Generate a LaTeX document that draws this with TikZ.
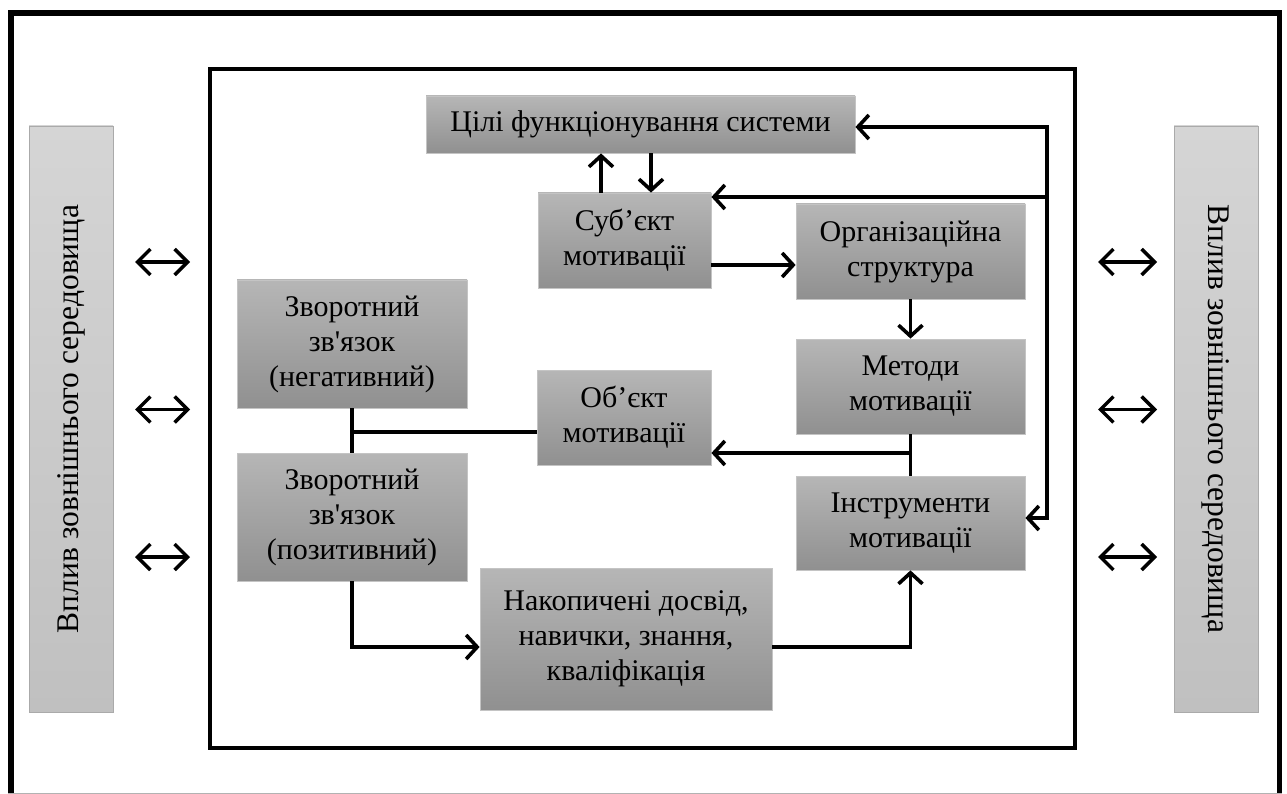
\documentclass[tikz,border=0pt]{standalone}
\usepackage{fontspec}
\setmainfont{Liberation Serif}[Ligatures=TeXOff]
\usetikzlibrary{arrows.meta}

\definecolor{boxtop}{HTML}{B6B6B6}
\definecolor{boxbot}{HTML}{909090}
\definecolor{boxrim}{HTML}{C4C4C4}
\definecolor{envtop}{HTML}{D5D5D5}
\definecolor{envbot}{HTML}{C0C0C0}
\definecolor{envrim}{HTML}{AAAAAA}

\tikzset{
  block/.style={draw=boxrim, line width=0.8pt, top color=boxtop, bottom color=boxbot,
    align=center, inner sep=0pt, font=\fontsize{30}{35}\selectfont},
  envbox/.style={draw=envrim, line width=0.8pt, top color=envtop, bottom color=envbot,
    inner sep=0pt},
  link/.style={line width=3.6pt, line cap=butt, line join=miter},
  arrowlink/.style={link, -{Straight Barb[length=11pt,width=24pt]}},
  twoway/.style={link, {Straight Barb[length=11pt,width=24pt]}-{Straight Barb[length=11pt,width=24pt]}},
  exchange/.style={line width=3.4pt, {Straight Barb[length=13pt,width=26pt]}-{Straight Barb[length=13pt,width=26pt]}},
}

\begin{document}
\begin{tikzpicture}[x=1pt,y=-1pt]
\useasboundingbox (0,0) rectangle (1287,794);

% outer frame
\draw[line width=5.5pt] (11,794) -- (11,13) -- (1279.5,13) -- (1279.5,794);
\draw[gray!60, line width=1pt] (8,793.3) -- (1282,793.3);

% inner frame
\draw[line width=4pt] (209.5,68.7) rectangle (1075,748);

% environment bars
\node[envbox, minimum width=84, minimum height=586] (envL) at (71,419) {};
\node[rotate=90, font=\fontsize{31.5}{35}\selectfont] (envLtext) at (envL.center) {Вплив зовнішнього середовища};
\node[envbox, minimum width=84, minimum height=586] (envR) at (1216,419) {};
\node[rotate=-90, font=\fontsize{31.5}{35}\selectfont] (envRtext) at (envR.center) {Вплив зовнішнього середовища};

% blocks
\node[block, minimum width=429, minimum height=57] (goals) at (640.5,124.5) {Цілі функціонування системи};
\node[block, minimum width=173, minimum height=95] (subj) at (624.5,240.5) {Суб’єкт\\мотивації};
\node[block, minimum width=229, minimum height=95] (org) at (910.5,251.5) {Організаційна\\структура};
\node[block, minimum width=229, minimum height=95] (meth) at (910.5,386.5) {Методи\\мотивації};
\node[block, minimum width=229, minimum height=94] (instr) at (910.5,523) {Інструменти\\мотивації};
\node[block, minimum width=174, minimum height=95] (obj) at (624,417.5) {Об’єкт\\мотивації};
\node[block, minimum width=230, minimum height=128] (neg) at (352,344) {Зворотний\\зв'язок\\(негативний)};
\node[block, minimum width=230, minimum height=128] (pos) at (352,517) {Зворотний\\зв'язок\\(позитивний)};
\node[block, minimum width=292, minimum height=142] (acc) at (626,639) {Накопичені досвід,\\навички, знання,\\кваліфікація};

% junction points
\coordinate (jtop) at (1047,127);
\coordinate (jmid) at (1047,197);
\coordinate (jbot) at (1047,518);
\coordinate (upx) at (601,0);
\coordinate (downx) at (651,0);
\coordinate (sorow) at (0,265);
\coordinate (mbr) at (0,453);
\coordinate (nbr) at (0,432);
\coordinate (lowrow) at (0,647);

% feedback bus on the right
\draw[twoway] (goals.east |- jtop) -- (jtop) -- (jbot) -- (instr.east |- jbot);
\draw[arrowlink] (jmid) -- (subj.east |- jmid);

% goals <-> subject
\draw[arrowlink] (subj.north -| upx) -- (goals.south -| upx);
\draw[arrowlink] (goals.south -| downx) -- (subj.north -| downx);

% main chain
\draw[arrowlink] (subj.east |- sorow) -- (org.west |- sorow);
\draw[arrowlink] (org.south) -- (meth.north);
\draw[link] (meth.south) -- (instr.north);
\draw[arrowlink] (meth.south |- mbr) -- (obj.east |- mbr);

% feedback blocks
\draw[link] (neg.south) -- (pos.north);
\draw[link] (neg.south |- nbr) -- (obj.west |- nbr);
\draw[arrowlink] (pos.south) -- (pos.south |- lowrow) -- (acc.west |- lowrow);
\draw[arrowlink] (acc.east |- lowrow) -- (instr.south |- lowrow) -- (instr.south);

% exchange with the environment
\foreach \yy [count=\i] in {262,409.5,557} {
  \coordinate (la\i) at (135,\yy);
  \coordinate (lb\i) at (190,\yy);
  \coordinate (ra\i) at (1098,\yy);
  \coordinate (rb\i) at (1157,\yy);
  \draw[exchange] (la\i) -- (lb\i);
  \draw[exchange] (ra\i) -- (rb\i);
}
\end{tikzpicture}
\end{document}
